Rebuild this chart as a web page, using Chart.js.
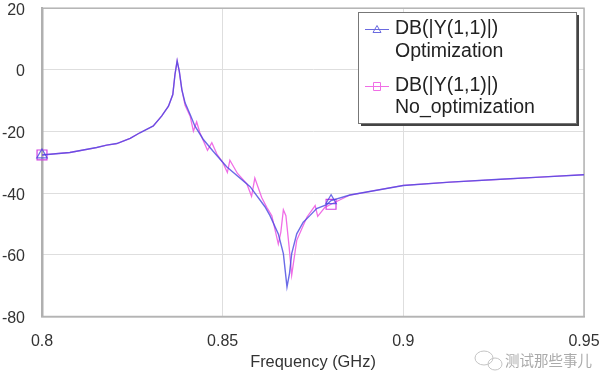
<!DOCTYPE html>
<html>
<head>
<meta charset="utf-8" />
<title>DB(|Y(1,1)|)</title>
<script src="https://cdn.jsdelivr.net/npm/chart.js@4"></script>
<style>
	body { margin: 0; padding: 0; background: #fff; }
	canvas { display: block; filter: blur(0.45px); }
</style>
</head>
<body>
<canvas id="chart" width="600" height="372"></canvas>
<script>
var optFreq = [0.8, 0.8077, 0.8151, 0.8179, 0.8207, 0.8244, 0.8271, 0.8308, 0.8331, 0.835, 0.8362, 0.8368, 0.8374, 0.838, 0.8387, 0.8396, 0.841, 0.8423, 0.8446, 0.8473, 0.8511, 0.8576, 0.8617, 0.8631, 0.8654, 0.8668, 0.8678, 0.8685, 0.8691, 0.8705, 0.8723, 0.8742, 0.876, 0.8788, 0.88, 0.8852, 0.9, 0.9129, 0.9268, 0.9378, 0.95];
var optDb = [-27.6, -26.8, -25.2, -24.4, -23.9, -22.2, -20.4, -18.2, -15, -11.8, -8, -1.5, 2.9, -0.5, -6.4, -10.7, -14.5, -18.2, -22.5, -26.3, -31.4, -37.9, -44.4, -47.3, -53.2, -59.6, -70.4, -66, -59.6, -53.2, -49.4, -47.2, -45, -43.7, -42.4, -40.6, -37.5, -36.4, -35.5, -34.8, -34];
var noOptFreq = [0.8, 0.8077, 0.8151, 0.8179, 0.8207, 0.8244, 0.8271, 0.8308, 0.8331, 0.835, 0.8362, 0.8368, 0.8374, 0.838, 0.8387, 0.8396, 0.841, 0.8419, 0.8428, 0.8437, 0.8458, 0.847, 0.8484, 0.85, 0.8513, 0.852, 0.8541, 0.8567, 0.858, 0.8589, 0.8608, 0.8622, 0.8636, 0.8654, 0.8661, 0.8668, 0.8675, 0.8684, 0.8691, 0.8705, 0.8733, 0.8756, 0.8763, 0.8783, 0.88, 0.8852, 0.9, 0.9129, 0.9268, 0.9378, 0.95];
var noOptDb = [-27.6, -26.8, -25.2, -24.4, -23.9, -22.2, -20.4, -18.2, -15, -11.8, -8, -1.5, 2.9, -0.5, -6.4, -11.5, -15, -19.9, -16.9, -20.4, -26.1, -23.6, -27.3, -30, -33.3, -29.3, -33.6, -37, -41, -35.1, -41.4, -44.6, -47.3, -56.5, -52.6, -45.4, -47.3, -57.5, -66.6, -55.3, -47.8, -44, -47.5, -44.6, -43.6, -40.6, -37.5, -36.4, -35.5, -34.8, -34];
var markerFreqs = [0.8, 0.88];
var xTicks = [0.8, 0.85, 0.9, 0.95];
var yTicks = [20, 0, -20, -40, -60, -80];
var legendLines = [['DB(|Y(1,1)|)', 'Optimization'], ['DB(|Y(1,1)|)', 'No_optimization']];
var xTitle = 'Frequency (GHz)';
var watermark = '测试那些事儿';

var BLUE = 'rgba(70,70,225,0.8)';
var PINK = '#f06ee6';

function toPoints(xs, ys) {
	return xs.map(function (x, i) { return { x: x, y: ys[i] }; });
}
function markerRadius(size) {
	return function (ctx) {
		return markerFreqs.indexOf(ctx.raw.x) > -1 ? size : 0;
	};
}

// grey frame round the plot, under the curves
var frame = {
	id: 'frame',
	beforeDatasetsDraw: function (chart) {
		var a = chart.chartArea;
		var c = chart.ctx;
		c.save();
		c.strokeStyle = '#b4b4b4';
		c.lineWidth = 1.5;
		c.strokeRect(a.left, a.top, a.right - a.left, a.bottom - a.top);
		c.fillStyle = '#b0b0b0';
		c.fillRect(a.left - 1, a.top, 2.5, a.bottom - a.top);
		c.restore();
	}
};

// legend box and watermark sit on top of the plot
var overlay = {
	id: 'overlay',
	afterDraw: function (chart) {
		var c = chart.ctx;
		c.save();
		c.fillStyle = '#444';
		c.fillRect(361, 15, 218, 111);
		c.fillStyle = '#fff';
		c.strokeStyle = '#777';
		c.lineWidth = 1;
		c.fillRect(358.5, 12.5, 218, 111);
		c.strokeRect(358.5, 12.5, 218, 111);

		c.font = '19.5px "Liberation Sans"';
		c.textBaseline = 'middle';
		c.fillStyle = '#222';
		c.fillText(legendLines[0][0], 395, 29);
		c.fillText(legendLines[0][1], 395, 52);
		c.fillText(legendLines[1][0], 395, 86);
		c.fillText(legendLines[1][1], 395, 108);

		c.strokeStyle = '#6a6ae0';
		c.beginPath();
		c.moveTo(365, 29.5); c.lineTo(389, 29.5);
		c.moveTo(373, 32.5); c.lineTo(377, 25.5); c.lineTo(381, 32.5); c.closePath();
		c.stroke();
		c.strokeStyle = PINK;
		c.beginPath();
		c.moveTo(365, 86.5); c.lineTo(389, 86.5);
		c.rect(373.5, 82.5, 7, 8);
		c.stroke();

		// wechat style icon next to the watermark
		c.strokeStyle = '#c4c4c4';
		c.beginPath();
		c.ellipse(484, 358, 9, 7, 0, 0, Math.PI * 2);
		c.stroke();
		c.beginPath();
		c.ellipse(495, 364, 7, 6, 0, 0, Math.PI * 2);
		c.stroke();
		c.font = '14.5px "Noto Sans CJK SC"';
		c.fillStyle = '#aaa';
		c.fillText(watermark, 505, 360);
		c.restore();
	}
};

new Chart(document.getElementById('chart'), {
	type: 'line',
	plugins: [frame, overlay],
	data: {
		datasets: [
			{
				label: 'Optimization',
				data: toPoints(optFreq, optDb),
				borderColor: BLUE,
				borderWidth: 1.4,
				clip: false,
				pointStyle: 'triangle',
				pointRadius: markerRadius(6),
				pointBorderColor: BLUE,
				pointBackgroundColor: 'transparent',
				pointBorderWidth: 1.2,
				order: 1
			},
			{
				label: 'No_optimization',
				data: toPoints(noOptFreq, noOptDb),
				borderColor: PINK,
				borderWidth: 1.3,
				clip: false,
				pointStyle: 'rect',
				pointRadius: markerRadius(7),
				pointBorderColor: '#d040e0',
				pointBackgroundColor: 'transparent',
				pointBorderWidth: 1.2,
				order: 2
			}
		]
	},
	options: {
		responsive: false,
		animation: false,
		parsing: false,
		layout: { padding: 0 },
		plugins: { legend: { display: false }, tooltip: { enabled: false } },
		scales: {
			x: {
				type: 'linear',
				min: 0.8,
				max: 0.95,
				afterBuildTicks: function (s) { s.ticks = xTicks.map(function (v) { return { value: v }; }); },
				afterFit: function (s) { s.height = 55.5; s.paddingRight = 16; s.paddingLeft = 0; },
				grid: { color: '#dedede', drawTicks: false },
				border: { color: '#aaa', width: 1.5 },
				ticks: {
					padding: 15,
					maxRotation: 0,
					autoSkip: false,
					color: '#333',
					font: { family: 'Liberation Sans', size: 16 },
					callback: function (v) { return String(v); }
				},
				title: {
					display: true,
					text: xTitle,
					color: '#333',
					padding: { top: 0, bottom: 0 },
					font: { family: 'Liberation Sans', size: 16.4 }
				}
			},
			y: {
				min: -80,
				max: 20,
				afterBuildTicks: function (s) { s.ticks = yTicks.map(function (v) { return { value: v }; }); },
				afterFit: function (s) { s.width = 42; s.paddingTop = 6.5; s.paddingBottom = 0; },
				grid: { color: '#dedede', drawTicks: false },
				border: { color: '#aaa', width: 2 },
				ticks: {
					padding: 17,
					labelOffset: 2,
					color: '#333',
					font: { family: 'Liberation Sans', size: 16 }
				}
			}
		}
	}
});
</script>
</body>
</html>
